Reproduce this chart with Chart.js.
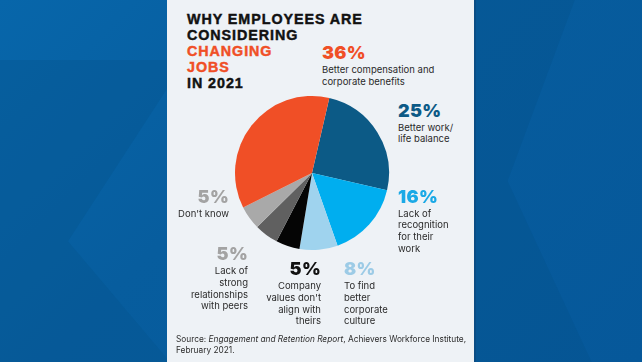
<!DOCTYPE html>
<html>
<head>
<meta charset="utf-8">
<script src="https://cdn.jsdelivr.net/npm/chart.js@4"></script>
<style>
html,body{margin:0;padding:0;}
body{width:642px;height:362px;overflow:hidden;position:relative;background:#075d9e;font-family:Inter,"Noto Sans",sans-serif;}
.bg{position:absolute;left:0;top:0;width:642px;height:362px;}
.shape{position:absolute;}
#panel{position:absolute;left:167px;top:0;width:307px;height:362px;background:#eef2f6;border-right:2px solid #0a4d85;}
#chartBox{position:absolute;left:232px;top:93px;width:160px;height:160px;}
.lbl{position:absolute;color:#2b2b2b;font-size:9.5px;white-space:nowrap;}
.lbl div{height:11.7px;line-height:11.7px;}
.lbl .pct{font-size:18px;line-height:22px;height:22px;font-weight:900;letter-spacing:0.3px;}
#title{position:absolute;left:187px;top:10.6px;font-family:"Liberation Sans",Arial,sans-serif;font-size:14.3px;font-weight:bold;color:#111;letter-spacing:0.95px;white-space:nowrap;-webkit-text-stroke:0.45px currentColor;}
#title div{height:16px;line-height:16px;}
#title .hl{color:#f04f26;}
#source{position:absolute;left:176px;top:334px;font-size:8.3px;color:#2b2b2b;white-space:nowrap;}
#source div{height:10.5px;line-height:10.5px;}
</style>
</head>
<body>
<div class="bg">
  <div class="shape" style="left:0;top:0;width:642px;height:362px;background:linear-gradient(135deg,#0766aa 0%,#075d9e 40%,#06589a 100%);"></div>
  <div class="shape" style="left:0;top:60px;width:170px;height:302px;background:#06548f;opacity:0.4;clip-path:polygon(0 0,100% 0,100% 8%,40% 60%,100% 100%,0 100%);"></div>
  <div class="shape" style="left:474px;top:0;width:168px;height:362px;background:#06528c;opacity:0.4;clip-path:polygon(0 0,60% 0,20% 50%,70% 100%,0 100%);"></div>
</div>
<div id="panel"></div>
<div id="title">
  <div>WHY EMPLOYEES ARE</div>
  <div>CONSIDERING</div>
  <div class="hl">CHANGING</div>
  <div class="hl">JOBS</div>
  <div>IN 2021</div>
</div>
<div id="chartBox"><canvas id="c" width="160" height="160"></canvas></div>
<div id="labels"></div>
<div id="source"><div>Source: <i>Engagement and Retention Report</i>, Achievers Workforce Institute,</div><div>February 2021.</div></div>
<script>
// Data
const categories = [
  "Better work/\nlife balance",
  "Lack of\nrecognition\nfor their\nwork",
  "To find\nbetter\ncorporate\nculture",
  "Company\nvalues don't\nalign with\ntheirs",
  "Lack of\nstrong\nrelationships\nwith peers",
  "Don't know",
  "Better compensation and\ncorporate benefits"
];
const values = [25, 16, 8, 5, 5, 5, 36];
const sliceColors = ["#0c5a86", "#00aeef", "#9fd3ee", "#050505", "#606060", "#a9a9a9", "#f04f26"];
const labelColors = ["#0c5a86", "#1aa9e6", "#9ccbe6", "#111111", "#a3a3a3", "#a3a3a3", "#f04f26"];
// label layout: [x, top, align]
const labelLayout = [
  [398, 99.8, "left"],
  [398, 185.6, "left"],
  [344, 258.4, "left"],
  [321, 258.4, "right"],
  [248, 243.4, "right"],
  [229, 186.4, "right"],
  [322, 42.2, "left"]
];

const wrap = document.getElementById('labels');
categories.forEach((cat, i) => {
  const [x, top, align] = labelLayout[i];
  const d = document.createElement('div');
  d.className = 'lbl';
  d.style.top = top + 'px';
  d.style.textAlign = align;
  if (align === 'left') d.style.left = x + 'px';
  else d.style.right = (642 - x) + 'px';
  const p = document.createElement('div');
  p.className = 'pct';
  p.style.color = labelColors[i];
  p.textContent = values[i] + '%';
  d.appendChild(p);
  cat.split('\n').forEach(line => {
    const l = document.createElement('div');
    l.textContent = line;
    d.appendChild(l);
  });
  wrap.appendChild(d);
});

new Chart(document.getElementById('c'), {
  type: 'pie',
  data: {
    labels: categories.map(c => c.replace(/\n/g, ' ')),
    datasets: [{
      data: values,
      backgroundColor: sliceColors,
      borderWidth: 0
    }]
  },
  options: {
    responsive: false,
    animation: false,
    rotation: 13,
    layout: { padding: 3 },
    plugins: { legend: { display: false }, tooltip: { enabled: false } }
  }
});
</script>
</body>
</html>
